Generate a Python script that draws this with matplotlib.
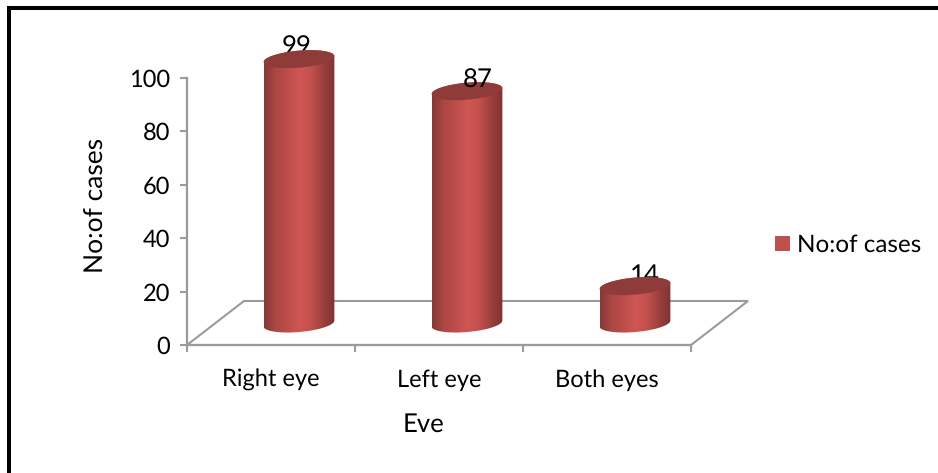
import matplotlib
matplotlib.use('Agg')
import matplotlib.pyplot as plt
import numpy as np
from matplotlib.colors import LinearSegmentedColormap
from matplotlib.lines import Line2D
from matplotlib.patches import PathPatch, Polygon, Rectangle
from matplotlib.path import Path

categories = ['Right eye', 'Left eye', 'Both eyes']
cases = [99, 87, 14]
y_ticks = [0, 20, 40, 60, 80, 100]
series_name = 'No:of cases'

W, H = 938, 473
GREY = '#9a9a9a'
px_x = 168.0      # pixels per category
px_y = 2.67       # pixels per case
depth_x = 28 / px_x   # the bars stand halfway back on the floor
depth_y = 21.5 / px_y
RX, RY = 35.5, 8.5
TILT = np.radians(5)

plt.rcParams['font.family'] = ['Lato', 'DejaVu Sans']
plt.rcParams['text.hinting'] = 'none'

fig = plt.figure(figsize=(W / 100, H / 100), dpi=100)
ax = fig.add_axes([187 / W, (H - 345) / H, 504 / W, 267 / H])
ax.set_xlim(-0.5, 2.5)
ax.set_ylim(0, 100)
ax.patch.set_visible(False)

# outer frame, open at the bottom and right
fig.add_artist(Line2D([9 / W, 9 / W, 938 / W], [0, (H - 8.5) / H, (H - 8.5) / H], color='black', lw=2.9,
                      solid_joinstyle='miter'))

# floor
floor_back = 57 / px_x
floor_up = 44 / px_y
ax.add_patch(Polygon([(-0.5, 0), (2.5, 0), (2.5 + floor_back, floor_up), (-0.5 + floor_back, floor_up)],
                     closed=True, fill=False, ec=GREY, lw=1.5, clip_on=False, zorder=1))

for s in ['top', 'right']:
    ax.spines[s].set_visible(False)
for s in ['left', 'bottom']:
    ax.spines[s].set_color(GREY)
    ax.spines[s].set_linewidth(1.6)
ax.set_yticks(y_ticks)
ax.set_xticks([-0.5, 0.5, 1.5, 2.5])
ax.set_xticklabels([])
ax.tick_params(axis='y', length=5, width=1.5, color=GREY, labelsize=17, pad=7)
ax.tick_params(axis='x', length=5, width=1.5, color=GREY)

for i, c in enumerate(categories):
    ax.annotate(c, (i, 0), xytext=(0, -35), textcoords='offset pixels', ha='center', va='center', fontsize=17)

ax.set_ylabel('No:of cases', fontsize=19)
ax.yaxis.set_label_coords(108 / W, (H - 205) / H, transform=fig.transFigure)
fig.text(424 / W, (H - 424) / H, 'Eve', ha='center', va='center', fontsize=18.5)

body_cmap = LinearSegmentedColormap.from_list('body', ['#853836', '#ac4845', '#bd4e4b', '#cf5653', '#c4504d', '#9c403e', '#7e3331'])


def ellipse(cx, cy, t):
    # tilted ellipse in data units, radii given in pixels
    dx = RX * np.cos(t) * np.cos(TILT) - RY * np.sin(t) * np.sin(TILT)
    dy = RX * np.cos(t) * np.sin(TILT) + RY * np.sin(t) * np.cos(TILT)
    return np.column_stack([cx + dx / px_x, cy + dy / px_y])


for i, v in enumerate(cases):
    cx = i + depth_x
    y0 = depth_y
    y1 = depth_y + v
    # side of the cylinder, shaded across its width
    lower = ellipse(cx, y0, np.linspace(np.pi, 2 * np.pi, 60))
    upper = ellipse(cx, y1, np.linspace(0, np.pi, 60))
    body = PathPatch(Path(np.vstack([lower, upper, lower[:1]])), fc='none', ec='none', transform=ax.transData)
    ax.add_patch(body)
    shade = ax.imshow(np.linspace(0, 1, 128)[None, :], cmap=body_cmap, aspect='auto', zorder=3,
                      extent=[cx - RX / px_x, cx + RX / px_x, y0 - 15 / px_y, y1 + 15 / px_y])
    shade.set_clip_path(body)
    shade.set_clip_box(fig.bbox)
    # lid
    ax.add_patch(Polygon(ellipse(cx, y1, np.linspace(0, 2 * np.pi, 120)), closed=True,
                         fc='#8e3b39', ec='none', zorder=4, clip_on=False))

ax.set_xlim(-0.5, 2.5)
ax.set_ylim(0, 100)

# value labels; the first and last sit behind their bars
label_shift = [(-2, 13), (11, 11), (10, 10)]
label_z = [2, 5, 2]
for i, v in enumerate(cases):
    ax.annotate(str(v), (i + depth_x, depth_y + v), xytext=label_shift[i], textcoords='offset pixels',
                ha='center', va='center', fontsize=18.5, zorder=label_z[i], annotation_clip=False)

# legend
fig.patches.append(Rectangle((775 / W, (H - 251) / H), 15 / W, 15 / H, transform=fig.transFigure,
                             fc='#c0504d', ec='none'))
fig.text(797 / W, (H - 245) / H, series_name, ha='left', va='center', fontsize=17.5)

fig.savefig('out.png', dpi=100)
